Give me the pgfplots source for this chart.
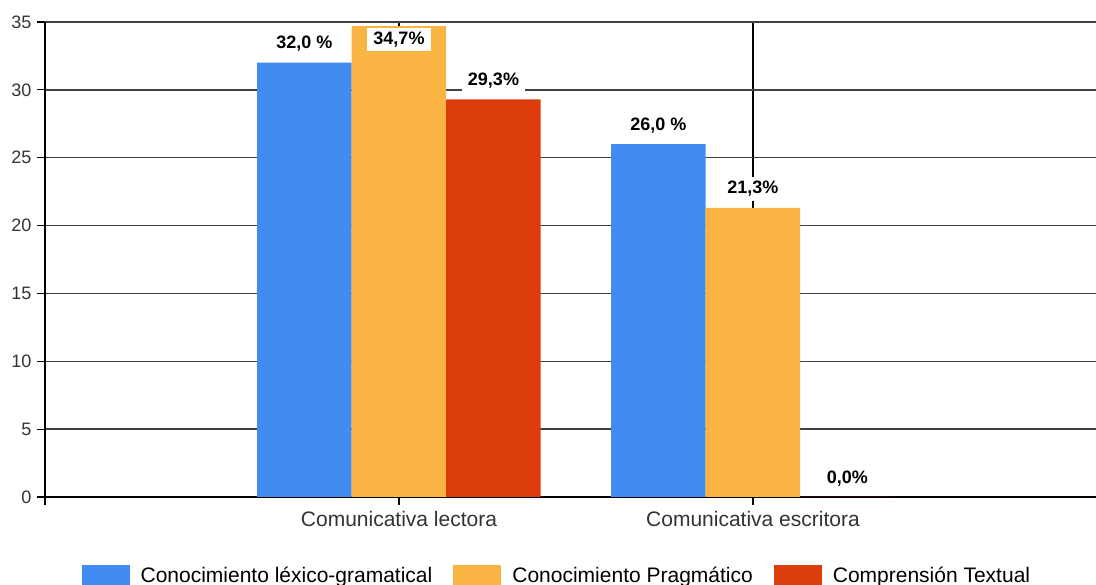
\documentclass[border=0pt]{standalone}
\usepackage{pgfplots}
\pgfplotsset{compat=1.18}
\usepackage{fontspec}
\setmainfont{Liberation Sans}
\definecolor{cblue}{RGB}{66,139,240}
\definecolor{cyellow}{RGB}{249,180,67}
\definecolor{cred}{RGB}{221,61,11}
\begin{document}
\begin{tikzpicture}
\begin{axis}[
  at={(45pt,88pt)}, anchor=south west,
  scale only axis=true,
  width=1062pt, height=475pt,
  xmin=0, xmax=3, ymin=0, ymax=35,
  /pgf/number format/assume math mode=true,
  xtick={0,1,2},
  xticklabels={,Comunicativa lectora,Comunicativa escritora},
  ytick={0,5,...,35},
  axis x line*=bottom, axis y line*=left,
  axis line style={black, line width=1.5pt, -},
  tick align=outside,
  major tick length=8pt,
  tick style={black, line width=1.2pt},
  ymajorgrids=true, xmajorgrids=true,
  y grid style={black!75, line width=1.5pt},
  x grid style={black, line width=1.5pt},
  yticklabel style={font=\fontsize{18}{20}\selectfont, text=black!80, xshift=-2pt},
  xticklabel style={font=\fontsize{21}{24}\selectfont, text=black!80, yshift=-3pt},
  ybar=0pt, bar width=94.5pt,
  visualization depends on={rawy \as \rawy},
  nodes near coords style={font=\bfseries\fontsize{18}{20}\selectfont, fill=white, inner xsep=6pt, inner ysep=4pt, anchor=south, yshift={ifthenelse(\rawy>33,-25,7)}},
  legend columns=3,
  legend style={draw=none, fill=none, at={(0.482,-0.166)}, anchor=center,
    font=\fontsize{21}{24}\selectfont, inner sep=0pt, outer sep=0pt,
    /tikz/every even column/.append style={column sep=19pt}},
  legend image code/.code={\fill[#1] (0pt,-11pt) rectangle (48pt,11pt); \path (57pt,0pt);},
]
\addplot[fill=cblue, draw=none, nodes near coords={\pgfmathprintnumber[fixed,fixed zerofill,precision=1,use comma]{\pgfplotspointmeta}\ \%}]
  coordinates {(1,32.0) (2,26.0)};
\addplot[fill=cyellow, draw=none, nodes near coords={\pgfmathprintnumber[fixed,fixed zerofill,precision=1,use comma]{\pgfplotspointmeta}\%}]
  coordinates {(1,34.7) (2,21.3)};
\addplot[fill=cred, draw=none, nodes near coords={\pgfmathprintnumber[fixed,fixed zerofill,precision=1,use comma]{\pgfplotspointmeta}\%}]
  coordinates {(1,29.3) (2,0.0)};
\legend{Conocimiento léxico-gramatical,Conocimiento Pragmático,Comprensión Textual}
\end{axis}
\pgfresetboundingbox
\useasboundingbox (0,0) rectangle (1096pt,585pt);
\end{tikzpicture}
\end{document}
